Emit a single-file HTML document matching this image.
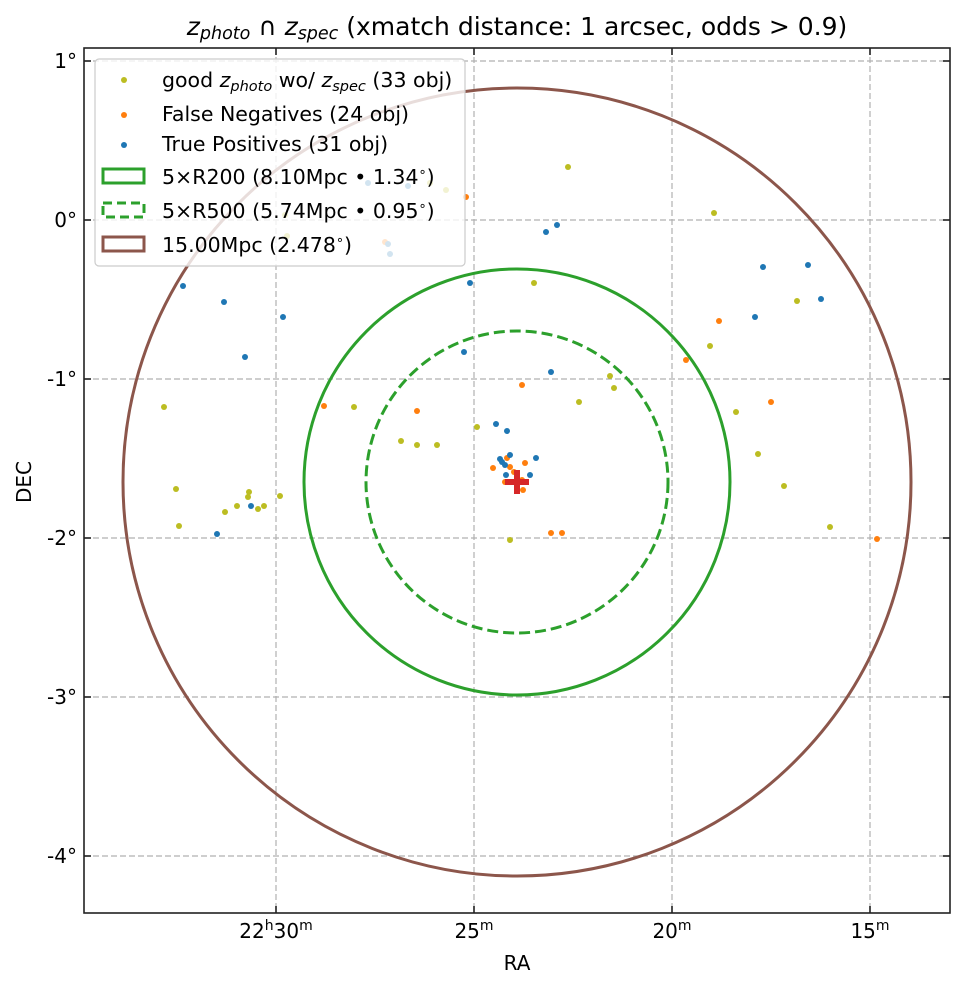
<!DOCTYPE html>
<html><head><meta charset="utf-8"><style>
body{margin:0;background:#fff}
svg text{font-family:"DejaVu Sans","Liberation Sans",sans-serif;fill:#000}
</style></head><body>
<svg width="965" height="989" viewBox="0 0 965 989" xmlns="http://www.w3.org/2000/svg">
<defs><clipPath id="c"><rect x="84" y="48" width="866" height="865"/></clipPath></defs>
<g stroke="#b0b0b0" stroke-width="1.2" stroke-dasharray="6,3">
<line x1="84" y1="61" x2="950" y2="61"/><line x1="84" y1="220" x2="950" y2="220"/><line x1="84" y1="379" x2="950" y2="379"/><line x1="84" y1="538" x2="950" y2="538"/><line x1="84" y1="697" x2="950" y2="697"/><line x1="84" y1="856" x2="950" y2="856"/>
<line x1="276" y1="48" x2="276" y2="913"/><line x1="474" y1="48" x2="474" y2="913"/><line x1="672" y1="48" x2="672" y2="913"/><line x1="870" y1="48" x2="870" y2="913"/>
</g>
<g clip-path="url(#c)">
<g fill="#bcbd22">
<circle cx="164" cy="407" r="3"/><circle cx="176" cy="489" r="3"/><circle cx="179" cy="526" r="3"/><circle cx="225" cy="512" r="3"/><circle cx="237" cy="506" r="3"/><circle cx="248" cy="497" r="3"/><circle cx="249" cy="492" r="3"/><circle cx="258" cy="509" r="3"/><circle cx="264" cy="506" r="3"/><circle cx="280" cy="496" r="3"/><circle cx="568" cy="167" r="3"/><circle cx="534" cy="283" r="3"/><circle cx="797" cy="301" r="3"/><circle cx="714" cy="213" r="3"/><circle cx="710" cy="346" r="3"/><circle cx="610" cy="376" r="3"/><circle cx="614" cy="388" r="3"/><circle cx="579" cy="402" r="3"/><circle cx="736" cy="412" r="3"/><circle cx="758" cy="454" r="3"/><circle cx="784" cy="486" r="3"/><circle cx="830" cy="527" r="3"/><circle cx="510" cy="540" r="3"/><circle cx="477" cy="427" r="3"/><circle cx="437" cy="445" r="3"/><circle cx="417" cy="445" r="3"/><circle cx="401" cy="441" r="3"/><circle cx="354" cy="407" r="3"/><circle cx="287" cy="236" r="3"/><circle cx="446" cy="190" r="3"/><circle cx="430" cy="183" r="3"/><circle cx="285" cy="215" r="3"/>
</g>
<g fill="#ff7f0e">
<circle cx="324" cy="406" r="3"/><circle cx="417" cy="411" r="3"/><circle cx="522" cy="385" r="3"/><circle cx="466" cy="197" r="3"/><circle cx="719" cy="321" r="3"/><circle cx="686" cy="360" r="3"/><circle cx="771" cy="402" r="3"/><circle cx="877" cy="539" r="3"/><circle cx="551" cy="533" r="3"/><circle cx="562" cy="533" r="3"/><circle cx="493" cy="468" r="3"/><circle cx="525" cy="463" r="3"/><circle cx="507" cy="458" r="3"/><circle cx="510" cy="467" r="3"/><circle cx="523" cy="490" r="3"/><circle cx="505" cy="482" r="3"/><circle cx="514" cy="472" r="3"/><circle cx="522" cy="480" r="3"/><circle cx="385" cy="242" r="3"/>
</g>
<g fill="#1f77b4">
<circle cx="183" cy="286" r="3"/><circle cx="224" cy="302" r="3"/><circle cx="245" cy="357" r="3"/><circle cx="283" cy="317" r="3"/><circle cx="217" cy="534" r="3"/><circle cx="251" cy="506" r="3"/><circle cx="470" cy="283" r="3"/><circle cx="464" cy="352" r="3"/><circle cx="551" cy="372" r="3"/><circle cx="496" cy="424" r="3"/><circle cx="507" cy="431" r="3"/><circle cx="536" cy="458" r="3"/><circle cx="546" cy="232" r="3"/><circle cx="557" cy="225" r="3"/><circle cx="408" cy="186" r="3"/><circle cx="388" cy="244" r="3"/><circle cx="390" cy="254" r="3"/><circle cx="368" cy="183" r="3"/><circle cx="763" cy="267" r="3"/><circle cx="808" cy="265" r="3"/><circle cx="821" cy="299" r="3"/><circle cx="755" cy="317" r="3"/><circle cx="500" cy="459" r="3"/><circle cx="502" cy="462" r="3"/><circle cx="505" cy="465" r="3"/><circle cx="506" cy="475" r="3"/><circle cx="530" cy="475" r="3"/><circle cx="510" cy="455" r="3"/>
</g>
<g fill="none" stroke-width="3">
<circle cx="517" cy="482" r="394" stroke="#8c564b"/>
<circle cx="517" cy="482" r="213" stroke="#2ca02c"/>
<circle cx="517" cy="482" r="151" stroke="#2ca02c" stroke-dasharray="11,5"/>
</g>
<g stroke="#d62728" stroke-width="6"><line x1="505" y1="482" x2="529" y2="482"/><line x1="517" y1="470" x2="517" y2="494"/></g>
</g>
<rect x="84" y="48" width="866" height="865" fill="none" stroke="#222" stroke-width="1.6"/>
<g stroke="#222" stroke-width="1.6">
<line x1="84" y1="61" x2="91" y2="61"/><line x1="84" y1="220" x2="91" y2="220"/><line x1="84" y1="379" x2="91" y2="379"/><line x1="84" y1="538" x2="91" y2="538"/><line x1="84" y1="697" x2="91" y2="697"/><line x1="84" y1="856" x2="91" y2="856"/>
<line x1="950" y1="61" x2="943" y2="61"/><line x1="950" y1="220" x2="943" y2="220"/><line x1="950" y1="379" x2="943" y2="379"/><line x1="950" y1="538" x2="943" y2="538"/><line x1="950" y1="697" x2="943" y2="697"/><line x1="950" y1="856" x2="943" y2="856"/>
<line x1="276" y1="913" x2="276" y2="906"/><line x1="474" y1="913" x2="474" y2="906"/><line x1="672" y1="913" x2="672" y2="906"/><line x1="870" y1="913" x2="870" y2="906"/>
<line x1="276" y1="48" x2="276" y2="55"/><line x1="474" y1="48" x2="474" y2="55"/><line x1="672" y1="48" x2="672" y2="55"/><line x1="870" y1="48" x2="870" y2="55"/>
</g>
<g font-size="20" text-anchor="end">
<text x="77" y="68">1°</text><text x="77" y="227">0°</text><text x="77" y="386">-1°</text><text x="77" y="545">-2°</text><text x="77" y="704">-3°</text><text x="77" y="863">-4°</text>
</g>
<g font-size="20" text-anchor="middle">
<text x="276" y="938">22<tspan font-size="14" dy="-8">h</tspan><tspan dy="8">30</tspan><tspan font-size="14" dy="-8">m</tspan></text>
<text x="474" y="938">25<tspan font-size="14" dy="-8">m</tspan></text>
<text x="672" y="938">20<tspan font-size="14" dy="-8">m</tspan></text>
<text x="870" y="938">15<tspan font-size="14" dy="-8">m</tspan></text>
<text x="517" y="970">RA</text>
<text transform="translate(31,482) rotate(-90)">DEC</text>
<text x="517" y="35" font-size="25"><tspan font-style="italic">z</tspan><tspan font-style="italic" font-size="17.5" dy="4">photo</tspan><tspan dy="-4"> ∩ </tspan><tspan font-style="italic">z</tspan><tspan font-style="italic" font-size="17.5" dy="4">spec</tspan><tspan dy="-4"> (xmatch distance: 1 arcsec, odds &gt; 0.9)</tspan></text>
</g>
<rect x="95" y="59" width="370" height="207" rx="4" fill="#fff" fill-opacity="0.8" stroke="#ccc" stroke-width="1.2"/>
<circle cx="124" cy="80" r="3" fill="#bcbd22"/><circle cx="124" cy="115" r="3" fill="#ff7f0e"/><circle cx="124" cy="145" r="3" fill="#1f77b4"/>
<rect x="103" y="169" width="41" height="14" fill="none" stroke="#2ca02c" stroke-width="3"/>
<rect x="103" y="203" width="41" height="14" fill="none" stroke="#2ca02c" stroke-width="3" stroke-dasharray="9,5"/>
<rect x="103" y="237" width="41" height="14" fill="none" stroke="#8c564b" stroke-width="3"/>
<g font-size="20.5">
<text x="162" y="87">good <tspan font-style="italic">z</tspan><tspan font-style="italic" font-size="14.5" dy="4">photo</tspan><tspan dy="-4"> wo/ </tspan><tspan font-style="italic">z</tspan><tspan font-style="italic" font-size="14.5" dy="4">spec</tspan><tspan dy="-4"> (33 obj)</tspan></text>
<text x="162" y="121">False Negatives (24 obj)</text>
<text x="162" y="151">True Positives (31 obj)</text>
<text x="162" y="184">5×R200 (8.10Mpc • 1.34<tspan font-size="13" dy="-8">∘</tspan><tspan dy="8">)</tspan></text>
<text x="162" y="218">5×R500 (5.74Mpc • 0.95<tspan font-size="13" dy="-8">∘</tspan><tspan dy="8">)</tspan></text>
<text x="162" y="252">15.00Mpc (2.478<tspan font-size="13" dy="-8">∘</tspan><tspan dy="8">)</tspan></text>
</g>
</svg>
</body></html>
